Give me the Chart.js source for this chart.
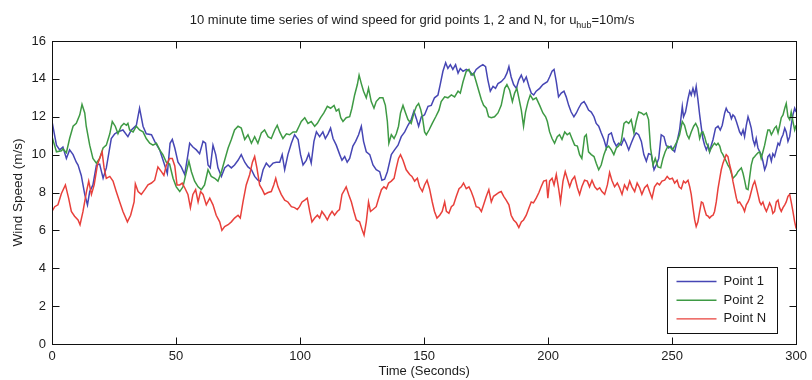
<!DOCTYPE html>
<html>
<head>
<meta charset="utf-8">
<title>Wind speed time series</title>
<script src="https://cdn.jsdelivr.net/npm/chart.js@4.4.1/dist/chart.umd.min.js"></script>
<style>
  html, body { margin: 0; padding: 0; background: #fff; }
  #wrap { width: 812px; height: 380px; }
</style>
</head>
<body>
<div id="wrap"><canvas id="windChart" width="812" height="380"></canvas></div>
<script>
// values (time in seconds, speed in m/s)

// Point 1 (blue)
var point1Time = [
  0, 1.8, 3.1, 4.4, 5.8, 7.1, 8.5, 9.8, 10.5, 11.8,
  13.2, 14.3, 15.2, 16.5, 17.9, 19.2, 20.6, 21.9, 23.9, 25.3,
  26.6, 28.6, 30.6, 32.0, 34.0, 35.3, 36.7, 38.0, 40.1, 41.4,
  43.4, 45.4, 46.5, 47.6, 48.5, 49.5, 50.8, 52.1, 53.5, 54.8,
  55.5, 56.8, 58.2, 59.5, 60.9, 61.9, 62.9, 63.8, 64.9, 66.0,
  66.9, 68.3, 69.6, 71.0, 72.3, 73.6, 75.0, 76.3, 77.7, 79.0,
  80.4, 81.7, 83.0, 84.0, 85.1, 86.4, 87.7, 89.1, 90.4, 91.8,
  92.8, 93.8, 95.1, 96.5, 97.8, 99.2, 100.2, 101.2, 102.5, 103.5,
  104.5, 105.6, 106.6, 107.9, 109.2, 110.2, 111.3, 112.3, 113.3, 114.6,
  116.0, 116.9, 118.0, 119.0, 120.0, 121.3, 122.4, 123.6, 124.7, 125.6,
  126.7, 128.1, 129.4, 130.7, 132.1, 133.0, 134.1, 135.2, 136.8, 138.1,
  139.5, 140.8, 142.2, 143.5, 144.8, 145.9, 146.9, 147.8, 148.9, 150.2,
  151.6, 152.9, 154.2, 155.6, 156.5, 157.6, 158.7, 159.6, 160.6, 161.6,
  162.7, 163.7, 164.6, 165.7, 167.0, 168.4, 169.7, 171.0, 172.4, 173.7,
  174.8, 175.7, 176.7, 177.8, 178.8, 179.8, 181.1, 182.5, 183.4, 184.2,
  185.1, 186.1, 187.2, 188.2, 189.2, 190.2, 191.2, 192.3, 193.2, 194.2,
  195.2, 196.6, 197.9, 199.7, 200.6, 201.6, 202.4, 203.3, 204.2, 205.3,
  206.4, 207.3, 208.3, 209.3, 210.4, 211.4, 212.3, 213.4, 214.5, 215.4,
  216.3, 217.4, 218.5, 219.4, 220.4, 221.4, 222.5, 223.5, 224.4, 225.5,
  226.5, 227.5, 228.4, 229.5, 230.6, 231.5, 232.5, 233.5, 234.6, 235.5,
  236.5, 237.6, 238.6, 239.6, 240.5, 241.6, 242.7, 243.6, 244.6, 245.6,
  246.7, 247.6, 248.6, 249.5, 250.3, 251.0, 252.0, 253.0, 254.1, 254.6,
  255.4, 256.4, 257.1, 257.7, 258.4, 259.1, 259.7, 260.4, 261.1, 261.8,
  262.4, 263.1, 263.8, 264.5, 265.1, 265.8, 266.5, 267.5, 268.5, 269.4,
  270.2, 271.2, 271.8, 272.5, 273.2, 273.9, 274.5, 275.2, 275.9, 276.5,
  277.2, 277.9, 278.6, 279.2, 279.9, 280.6, 281.2, 281.9, 282.6, 283.3,
  283.9, 284.6, 285.3, 285.9, 286.6, 287.3, 288.0, 288.6, 289.3, 290.0,
  290.6, 291.3, 292.0, 292.7, 293.3, 294.0, 294.7, 295.4, 296.0, 296.7,
  297.4, 298.0, 298.7, 299.4, 300
];
var point1Speed = [
  11.75, 10.5, 10.25, 10.4, 9.8, 10.25, 10.0, 9.6, 9.45, 8.9,
  7.9, 7.35, 8.05, 8.4, 9.45, 9.5, 8.75, 9.3, 10.85, 11.1,
  11.2, 11.3, 10.95, 11.3, 11.55, 12.45, 11.5, 11.1, 11.05, 10.7,
  10.25, 9.45, 9.0, 10.6, 10.8, 10.35, 9.6, 9.35, 8.95, 10.0,
  10.6, 10.4, 10.25, 10.05, 10.7, 10.6, 9.45, 9.3, 10.5, 10.0,
  9.3, 8.85, 9.3, 9.45, 9.3, 9.45, 9.7, 10.0, 9.6, 9.35,
  9.2, 8.85, 8.65, 8.6, 9.2, 9.55, 9.35, 9.55, 9.6, 9.6,
  10.0, 9.2, 10.0, 10.6, 11.05, 10.8, 10.0, 9.45, 9.7, 10.05,
  9.55, 10.7, 11.2, 10.95, 11.2, 10.85, 11.1, 11.4, 10.85, 10.5,
  10.0, 9.7, 9.9, 9.6, 9.8, 10.45, 10.7, 11.05, 11.5, 10.7,
  10.15, 10.0, 9.45, 9.2, 9.1, 8.65, 8.7, 9.1, 10.0, 10.25,
  10.5, 10.95, 11.2, 11.55, 11.85, 12.3, 11.9, 11.5, 12.0, 12.1,
  12.55, 12.6, 13.0, 13.15, 13.7, 14.4, 14.85, 14.55, 14.75, 14.5,
  14.75, 14.3, 14.55, 14.4, 14.5, 14.4, 14.2, 14.5, 14.65, 14.75,
  14.65, 13.95, 13.35, 13.6, 13.5, 13.75, 13.85, 14.05, 14.3, 14.65,
  14.1, 13.7, 13.5, 13.95, 14.2, 13.85, 14.1, 13.6, 13.25, 13.15,
  13.35, 13.5, 13.7, 13.85, 14.1, 14.4, 14.5, 13.85, 13.05, 13.25,
  13.35, 13.05, 12.6, 12.25, 12.0, 12.2, 12.45, 12.7, 12.8, 12.6,
  12.35, 12.25, 12.0, 11.65, 11.5, 11.15, 10.8, 10.35, 11.05, 11.15,
  10.7, 10.45, 10.6, 10.5, 10.85, 10.6, 10.25, 10.6, 10.95, 11.15,
  11.05, 10.7, 10.0, 9.65, 10.05, 10.0, 9.2, 9.45, 9.8, 11.05,
  10.95, 10.5, 10.35, 10.45, 10.25, 10.15, 10.7, 11.3, 12.55, 12.0,
  12.25, 12.95, 13.35, 13.15, 13.5, 13.15, 13.6, 12.9, 12.1, 11.4,
  10.85, 10.5, 10.25, 10.5, 10.15, 10.5, 10.8, 11.4, 11.5, 11.3,
  11.55, 12.2, 12.45, 12.25, 12.2, 11.9, 12.1, 12.0, 11.75, 11.5,
  11.2, 11.05, 11.3, 10.95, 11.55, 12.0, 11.75, 11.4, 10.8, 10.5,
  10.85, 10.35, 10.15, 10.0, 9.65, 9.2, 9.45, 9.9, 10.0, 9.65,
  10.05, 9.9, 10.25, 10.6, 10.5, 10.85, 11.05, 11.4, 11.2, 10.7,
  10.95, 11.55, 12.1, 12.45, 12.25
];

// Point 2 (green)
var point2Time = [
  0, 1.8, 3.8, 4.4, 5.8, 7.1, 8.5, 9.8, 11.2, 12.1,
  13.2, 13.8, 15.2, 16.5, 17.9, 19.2, 20.6, 21.9, 23.3, 24.3,
  25.5, 26.6, 27.9, 29.0, 30.0, 30.6, 31.3, 32.7, 34.0, 35.3,
  36.7, 38.0, 39.4, 40.7, 42.1, 43.4, 44.7, 46.1, 47.4, 48.8,
  50.1, 51.5, 52.8, 54.2, 55.2, 56.2, 57.5, 58.9, 60.2, 61.5,
  62.9, 64.2, 65.6, 66.9, 68.3, 69.6, 71.0, 72.3, 73.6, 75.0,
  76.3, 77.7, 79.0, 80.4, 81.7, 83.0, 84.4, 85.7, 87.1, 88.4,
  89.8, 90.8, 91.8, 93.1, 94.5, 95.8, 97.2, 98.5, 99.6, 100.5,
  101.9, 103.2, 104.5, 105.9, 107.0, 108.3, 109.6, 111.0, 112.3, 113.7,
  114.6, 115.6, 116.4, 117.3, 118.6, 120.0, 120.9, 122.0, 123.1, 123.8,
  124.7, 125.6, 126.7, 127.6, 128.7, 129.8, 130.7, 132.1, 133.4, 134.4,
  135.2, 135.8, 136.8, 137.9, 138.8, 139.7, 140.5, 141.5, 142.4, 143.5,
  144.8, 145.9, 146.9, 147.8, 148.6, 149.3, 150.2, 150.9, 152.0, 153.3,
  154.7, 156.0, 156.9, 158.3, 159.6, 161.0, 162.3, 163.7, 164.6, 165.7,
  167.0, 168.1, 169.0, 170.0, 171.0, 172.1, 173.1, 174.0, 175.1, 176.0,
  177.1, 178.4, 179.8, 181.1, 182.5, 183.4, 184.5, 185.6, 186.5, 187.4,
  188.2, 189.2, 190.1, 190.9, 191.9, 192.8, 193.9, 195.2, 196.6, 197.9,
  199.0, 199.7, 200.6, 201.6, 202.6, 203.7, 204.6, 205.6, 206.7, 207.7,
  208.7, 209.6, 210.7, 211.8, 212.7, 213.6, 214.7, 215.4, 216.3, 217.4,
  218.5, 219.4, 220.4, 221.4, 222.5, 223.5, 224.4, 225.5, 226.5, 227.5,
  228.4, 229.5, 230.6, 231.5, 232.5, 233.5, 234.6, 235.5, 236.5, 237.6,
  238.6, 239.6, 240.5, 241.3, 242.3, 243.2, 244.3, 245.4, 246.3, 247.2,
  248.3, 249.2, 250.1, 251.0, 252.0, 253.0, 254.1, 255.0, 256.0, 256.8,
  257.7, 258.7, 259.5, 260.4, 261.1, 261.8, 262.4, 263.1, 263.8, 264.5,
  265.1, 265.8, 266.5, 267.1, 267.8, 268.5, 269.2, 269.8, 270.5, 271.2,
  271.8, 272.5, 273.2, 273.9, 274.5, 275.2, 275.9, 276.5, 277.2, 277.9,
  278.6, 279.2, 279.9, 280.6, 281.2, 281.9, 282.6, 283.3, 283.9, 284.6,
  285.3, 285.9, 286.6, 287.3, 288.0, 288.6, 289.3, 290.0, 290.6, 291.3,
  292.0, 292.7, 293.3, 294.0, 294.7, 295.4, 296.0, 296.7, 297.4, 298.0,
  298.7, 299.4, 300
];
var point2Speed = [
  10.95, 10.15, 10.2, 10.3, 10.1, 10.85, 11.5, 11.65, 12.1, 12.65,
  12.2, 11.5, 10.5, 9.8, 9.55, 9.8, 10.35, 10.5, 11.1, 11.75,
  11.5, 11.1, 11.5, 11.65, 11.55, 11.65, 11.3, 11.2, 11.5, 11.3,
  11.2, 10.85, 10.6, 10.5, 10.6, 10.25, 10.0, 9.6, 9.5, 8.75,
  8.3, 8.05, 8.3, 9.1, 9.65, 9.1, 8.6, 8.3, 8.15, 8.4,
  9.2, 8.85, 8.75, 8.6, 9.1, 9.7, 10.35, 10.8, 11.3, 11.5,
  11.4, 10.8, 11.05, 10.6, 10.95, 10.6, 11.15, 11.3, 10.95, 10.85,
  11.3, 11.55, 11.2, 10.85, 11.1, 11.05, 11.2, 11.2, 11.5, 11.75,
  11.95, 11.65, 11.75, 11.5, 11.65, 11.95, 12.2, 12.55, 12.45, 12.6,
  12.3, 12.4, 11.95, 11.75, 11.95, 12.0, 12.45, 13.15, 13.7, 14.2,
  13.75, 13.35, 13.0, 13.5, 12.8, 12.45, 12.8, 13.0, 13.0, 12.6,
  11.75, 10.6, 11.05, 10.85, 11.1, 11.5, 12.2, 12.6, 12.25, 11.85,
  11.65, 12.2, 12.55, 12.7, 12.4, 12.0, 11.2, 11.05, 11.3, 11.65,
  12.0, 12.35, 12.8, 13.05, 13.0, 13.15, 13.05, 13.35, 13.25, 13.85,
  14.4, 14.5, 14.2, 14.3, 13.85, 13.35, 12.9, 12.6, 12.45, 12.0,
  11.95, 12.0, 12.2, 12.6, 13.5, 13.7, 13.4, 12.8, 13.25, 13.5,
  13.0, 12.35, 11.5, 12.25, 12.8, 13.15, 12.9, 13.0, 12.6, 12.2,
  12.0, 11.75, 11.2, 10.85, 10.6, 10.95, 11.05, 10.8, 11.2, 11.05,
  11.15, 10.85, 10.5, 10.45, 10.0, 9.8, 10.95, 11.05, 10.15, 10.0,
  9.9, 9.55, 9.2, 9.45, 10.0, 10.35, 10.45, 10.25, 10.0, 10.35,
  10.45, 10.7, 11.65, 11.75, 11.65, 11.85, 11.15, 11.75, 12.25, 12.2,
  12.1, 12.2, 11.85, 10.35, 9.45, 9.8, 9.35, 9.3, 9.8, 10.15,
  10.45, 10.4, 10.25, 10.45, 10.7, 11.05, 11.75, 11.55, 11.05, 10.85,
  11.2, 11.5, 11.65, 11.4, 10.85, 11.15, 11.2, 10.95, 10.6, 10.45,
  10.15, 10.35, 10.5, 10.6, 10.5, 10.6, 10.45, 10.15, 10.0, 9.8,
  9.65, 9.45, 9.3, 9.0, 8.75, 8.85, 8.95, 9.1, 9.2, 9.3,
  9.0, 8.65, 8.2, 8.15, 8.75, 9.45, 9.8, 9.9, 10.0, 10.1,
  10.15, 9.8, 10.15, 10.5, 10.95, 11.3, 11.3, 11.05, 11.2, 11.4,
  11.5, 11.15, 11.5, 11.95, 12.1, 12.45, 12.7, 12.0, 11.85, 12.25,
  11.75, 11.3, 11.55
];

// Point N (red)
var pointNTime = [
  0, 1.1, 2.4, 3.8, 5.4, 6.7, 7.8, 9.1, 10.5, 11.3,
  12.5, 13.9, 14.8, 15.9, 17.0, 18.3, 19.2, 20.2, 21.0, 21.9,
  23.3, 24.6, 25.9, 27.3, 28.6, 30.4, 31.7, 33.1, 33.6, 34.7,
  36.0, 37.4, 38.7, 40.1, 41.4, 42.7, 44.1, 45.1, 46.1, 47.4,
  48.5, 49.5, 50.4, 51.5, 52.5, 53.5, 54.8, 55.8, 56.8, 57.9,
  58.9, 59.9, 60.9, 62.2, 63.6, 64.9, 66.2, 67.6, 68.5, 69.6,
  71.0, 72.3, 73.6, 75.0, 75.9, 77.0, 78.3, 79.7, 80.8, 81.7,
  82.6, 83.7, 84.8, 85.7, 87.1, 88.4, 89.4, 90.2, 91.1, 92.4,
  93.8, 95.1, 96.5, 97.8, 98.9, 99.8, 100.8, 101.9, 102.9, 103.9,
  104.8, 105.9, 107.0, 107.9, 108.8, 109.9, 111.0, 111.9, 112.9, 113.9,
  115.0, 115.9, 116.9, 118.0, 118.6, 119.6, 120.7, 121.7, 122.7, 124.0,
  125.1, 125.8, 126.7, 127.6, 128.4, 129.4, 130.7, 131.7, 132.8, 133.8,
  134.8, 135.7, 136.8, 137.9, 138.8, 139.7, 140.5, 141.5, 142.8, 144.2,
  145.1, 146.2, 147.3, 148.2, 149.3, 150.2, 151.2, 152.2, 153.3, 154.2,
  155.2, 156.3, 157.3, 158.3, 159.0, 160.0, 161.0, 161.9, 163.0, 164.1,
  165.0, 165.9, 167.0, 168.1, 169.0, 170.0, 171.0, 172.1, 173.1, 174.0,
  175.1, 176.1, 177.1, 178.0, 179.1, 180.2, 181.1, 182.1, 183.1, 184.2,
  185.1, 186.1, 187.2, 188.2, 189.2, 190.1, 191.2, 192.3, 193.2, 194.1,
  195.2, 196.3, 197.2, 198.2, 199.3, 199.9, 200.6, 201.6, 202.4, 203.3,
  204.2, 205.0, 206.0, 206.9, 207.7, 208.7, 209.6, 210.7, 211.8, 212.7,
  213.6, 214.7, 215.8, 216.7, 217.7, 218.8, 219.8, 220.8, 221.7, 222.8,
  223.9, 224.8, 225.7, 226.8, 227.9, 228.8, 229.8, 230.8, 231.9, 232.9,
  233.8, 234.9, 235.9, 236.9, 237.8, 238.9, 240.0, 240.9, 241.9, 242.9,
  244.0, 244.9, 245.9, 247.0, 248.0, 249.0, 250.1, 251.0, 252.0, 252.8,
  253.7, 254.6, 255.4, 256.4, 257.1, 257.7, 258.4, 259.1, 259.7, 260.4,
  261.1, 261.8, 262.4, 263.1, 263.8, 264.5, 265.1, 265.8, 266.5, 267.1,
  267.8, 268.5, 269.2, 269.8, 270.5, 271.2, 271.8, 272.5, 273.2, 273.9,
  274.5, 275.2, 275.9, 276.5, 277.2, 277.9, 278.6, 279.2, 279.9, 280.6,
  281.2, 281.9, 282.6, 283.3, 283.9, 284.6, 285.3, 285.9, 286.6, 287.3,
  288.0, 288.6, 289.3, 290.0, 290.6, 291.3, 292.0, 292.7, 293.3, 294.0,
  294.7, 295.4, 296.0, 296.7, 297.4, 298.0, 298.7, 299.4, 300
];
var pointNSpeed = [
  7.0, 7.25, 7.35, 7.95, 8.4, 7.7, 7.0, 6.75, 6.55, 6.3,
  7.0, 8.05, 8.6, 7.9, 8.4, 9.45, 9.8, 10.15, 9.3, 8.75,
  8.85, 8.6, 8.05, 7.5, 7.0, 6.45, 6.8, 7.5, 8.45, 8.05,
  7.9, 8.15, 8.4, 8.5, 8.65, 9.35, 9.1, 8.9, 9.45, 9.8,
  9.8, 9.4, 8.4, 8.4, 8.5, 8.25, 7.9, 7.2, 7.9, 8.15,
  7.5, 8.05, 7.9, 7.35, 7.7, 7.35, 6.8, 6.45, 6.0, 6.2,
  6.3, 6.45, 6.65, 6.8, 6.65, 7.5, 8.4, 8.95, 9.6, 9.9,
  9.3, 8.4, 8.15, 7.9, 8.0, 8.05, 8.4, 8.75, 8.3, 7.9,
  7.6, 7.5, 7.25, 7.2, 7.1, 7.25, 7.5, 7.6, 7.7, 7.0,
  6.45, 6.65, 6.8, 6.65, 7.0, 6.8, 6.55, 6.8, 7.0, 6.8,
  7.0, 7.1, 7.9, 8.15, 8.3, 7.9, 7.5, 7.0, 6.55, 6.45,
  6.0, 5.75, 6.45, 7.5, 7.0, 7.1, 7.25, 7.7, 8.15, 8.3,
  8.2, 8.5, 8.6, 8.75, 9.3, 9.8, 10.0, 9.7, 9.2, 8.95,
  8.85, 8.6, 8.75, 8.3, 8.05, 8.4, 8.65, 8.2, 7.5, 7.0,
  6.65, 6.8, 7.0, 7.5, 7.0, 6.9, 7.25, 7.35, 7.8, 8.2,
  8.3, 8.5, 8.2, 8.3, 8.05, 7.7, 7.25, 7.2, 7.0, 7.35,
  7.8, 8.15, 7.5, 7.8, 7.9, 8.0, 8.05, 7.8, 7.6, 7.35,
  6.8, 6.55, 6.4, 6.15, 6.45, 6.55, 6.8, 7.2, 7.5, 7.45,
  7.7, 8.0, 8.3, 8.6, 8.65, 7.7, 8.6, 8.75, 8.4, 8.95,
  8.25, 7.5, 8.6, 9.1, 8.75, 8.3, 8.65, 8.85, 8.25, 7.9,
  8.3, 8.65, 8.6, 8.3, 8.65, 8.3, 8.15, 8.25, 8.05, 7.9,
  8.4, 9.05, 8.65, 8.3, 8.5, 8.25, 7.9, 8.4, 8.15, 8.6,
  8.3, 8.05, 8.5, 8.25, 7.9, 8.25, 8.4, 8.05, 7.7, 8.3,
  8.5, 8.4, 8.6, 8.65, 8.85, 8.7, 8.75, 8.5, 8.65, 8.3,
  8.2, 8.6, 8.5, 8.65, 8.3, 7.9, 7.2, 6.55, 6.2, 6.45,
  7.0, 7.5, 7.45, 7.1, 6.8, 6.75, 6.65, 6.75, 6.8, 7.0,
  7.5, 8.2, 8.75, 9.2, 9.55, 9.8, 10.0, 9.9, 9.45, 9.1,
  8.6, 8.15, 7.7, 7.45, 7.5, 7.35, 7.2, 7.0, 7.35, 7.5,
  7.7, 8.05, 8.4, 8.6, 8.3, 7.9, 7.5, 7.35, 7.5, 7.2,
  7.0, 7.2, 7.45, 7.25, 6.9, 7.0, 7.5, 7.6, 7.2, 7.0,
  7.2, 7.35, 7.5, 7.8, 7.9, 7.5, 7.0, 6.45, 6.1
];

var seriesLabels = ['Point 1', 'Point 2', 'Point N'];
var xTickStep = 50;   // 0 ... 300
var yTickStep = 2;    // 0 ... 16

var FONT = '"Liberation Sans", Arial, Helvetica, sans-serif';
var TEXT = '#1c1c1c';

function toPoints(times, speeds) {
    return times.map(function (t, i) { return { x: t, y: speeds[i] }; });
}

// MATLAB-like frame: full box, inward ticks on every side, legend and title
var matlabFrame = {
    id: 'matlabFrame',
    afterDraw: function (chart) {
        var ctx = chart.ctx;
        var area = chart.chartArea;
        var xs = chart.scales.x;
        var ys = chart.scales.y;
        var tick = 7;
        var L = Math.round(area.left) + 0.5, R = Math.round(area.right) + 0.5;
        var T = Math.round(area.top) + 0.5, B = Math.round(area.bottom) + 0.5;

        ctx.save();
        ctx.strokeStyle = '#111';
        ctx.lineWidth = 1;
        ctx.strokeRect(L, T, R - L, B - T);

        ctx.beginPath();
        xs.ticks.forEach(function (t) {
            var px = Math.round(xs.getPixelForValue(t.value)) + 0.5;
            ctx.moveTo(px, B); ctx.lineTo(px, B - tick);
            ctx.moveTo(px, T); ctx.lineTo(px, T + tick);
        });
        ys.ticks.forEach(function (t) {
            var py = Math.round(ys.getPixelForValue(t.value)) + 0.5;
            ctx.moveTo(L, py); ctx.lineTo(L + tick, py);
            ctx.moveTo(R, py); ctx.lineTo(R - tick, py);
        });
        ctx.stroke();

        // legend box, lower right inside the axes
        var boxW = 110, boxH = 66, rowH = 18.7;
        var bx = Math.round(area.right - 19 - boxW) + 0.5;
        var by = Math.round(area.bottom - 11 - boxH) + 0.5;
        ctx.fillStyle = '#fff';
        ctx.fillRect(bx, by, boxW, boxH);
        ctx.strokeRect(bx, by, boxW, boxH);
        ctx.font = '13px ' + FONT;
        ctx.textAlign = 'left';
        ctx.textBaseline = 'middle';
        chart.data.datasets.forEach(function (ds, i) {
            var cy = by + 14 + i * rowH;
            ctx.strokeStyle = ds.borderColor;
            ctx.lineWidth = 1.4;
            ctx.beginPath();
            ctx.moveTo(bx + 9, cy); ctx.lineTo(bx + 49, cy);
            ctx.stroke();
            ctx.fillStyle = TEXT;
            ctx.fillText(ds.label, bx + 56, cy);
        });

        // title with subscript "hub"
        var main = '10 minute time series of wind speed for grid points 1, 2 and N, for u';
        var sub = 'hub';
        var tail = '=10m/s';
        ctx.fillStyle = TEXT;
        ctx.textBaseline = 'alphabetic';
        ctx.font = '13px ' + FONT;
        var wMain = ctx.measureText(main).width;
        var wTail = ctx.measureText(tail).width;
        ctx.font = '9px ' + FONT;
        var wSub = ctx.measureText(sub).width;
        var x0 = (area.left + area.right) / 2 - 12 - (wMain + wSub + wTail) / 2;
        var base = 23.5;
        ctx.font = '13px ' + FONT;
        ctx.fillText(main, x0, base);
        ctx.font = '9px ' + FONT;
        ctx.fillText(sub, x0 + wMain, base + 4);
        ctx.font = '13px ' + FONT;
        ctx.fillText(tail, x0 + wMain + wSub, base);
        ctx.restore();
    }
};

var context = document.getElementById('windChart').getContext('2d');
var chart = new Chart(context, {
    type: 'line',
    data: {
        datasets: [
            {
                label: seriesLabels[0],
                data: toPoints(point1Time, point1Speed),
                borderColor: '#4646b4',
                order: 3
            },
            {
                label: seriesLabels[1],
                data: toPoints(point2Time, point2Speed),
                borderColor: '#3e9a44',
                order: 2
            },
            {
                label: seriesLabels[2],
                data: toPoints(pointNTime, pointNSpeed),
                borderColor: '#e8403b',
                order: 1
            }
        ]
    },
    options: {
        responsive: false,
        animation: false,
        devicePixelRatio: 1,
        datasets: {
            line: { borderWidth: 1.5, pointRadius: 0, tension: 0, fill: false }
        },
        layout: { padding: { top: 41, right: 15, left: 0, bottom: 0 } },
        plugins: {
            legend: { display: false },
            title: { display: false },
            tooltip: { enabled: false }
        },
        scales: {
            x: {
                type: 'linear',
                min: 0,
                max: 300,
                ticks: { stepSize: xTickStep, padding: 5, maxRotation: 0, color: TEXT, font: { family: FONT, size: 13 } },
                grid: { display: false, drawTicks: false },
                border: { display: false },
                title: {
                    display: true,
                    text: 'Time (Seconds)',
                    color: TEXT,
                    font: { family: FONT, size: 13 },
                    padding: { top: 0, bottom: 1 }
                },
                afterFit: function (scale) { scale.height = 36; }
            },
            y: {
                min: 0,
                max: 16,
                ticks: { stepSize: yTickStep, padding: 6, color: TEXT, font: { family: FONT, size: 13 } },
                grid: { display: false, drawTicks: false },
                border: { display: false },
                title: {
                    display: true,
                    text: 'Wind Speed (m/s)',
                    color: TEXT,
                    font: { family: FONT, size: 13.5 },
                    padding: { top: 10, bottom: 0 }
                },
                afterFit: function (scale) { scale.width = 52; }
            }
        }
    },
    plugins: [matlabFrame]
});
</script>
</body>
</html>
